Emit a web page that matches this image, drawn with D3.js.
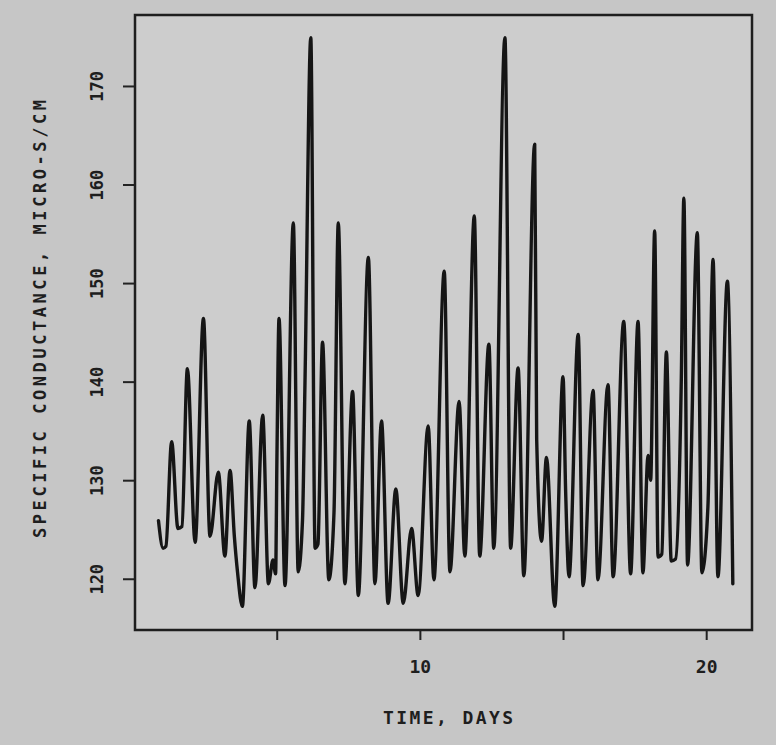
<!DOCTYPE html>
<html>
<head>
<meta charset="utf-8">
<script src="https://cdn.jsdelivr.net/npm/d3@7"></script>
<style>
  html, body { margin: 0; padding: 0; background: #c6c6c6; }
  svg { display: block; }
</style>
</head>
<body>
<div id="chart"></div>
<script>
// Time (days) and specific conductance readings, picked off the scanned plot
const days = [
  0.87, 1.03, 1.13, 1.33, 1.55, 1.69, 1.88, 2.15, 2.44, 2.67,
  2.96, 3.19, 3.37, 3.52, 3.63, 3.80, 4.04, 4.24, 4.51, 4.71,
  4.87, 4.96, 5.01, 5.08, 5.29, 5.58, 5.75, 5.90, 5.99, 6.19,
  6.34, 6.44, 6.60, 6.82, 7.00, 7.15, 7.38, 7.65, 7.85, 8.20,
  8.43, 8.66, 8.89, 9.16, 9.42, 9.71, 9.94, 10.29, 10.49, 10.85,
  11.05, 11.37, 11.57, 11.90, 12.09, 12.41, 12.58, 12.97, 13.17, 13.43,
  13.63, 14.01, 14.08, 14.25, 14.42, 14.71, 15.00, 15.09, 15.21, 15.53,
  15.70, 16.05, 16.22, 16.57, 16.75, 17.12, 17.36, 17.62, 17.79, 17.97,
  18.06, 18.20, 18.32, 18.45, 18.61, 18.78, 18.93, 19.13, 19.22, 19.35,
  19.69, 19.85, 20.06, 20.24, 20.41, 20.74, 20.93
];
const conductance = [
  125.9, 123.1, 123.3, 133.9, 125.1, 125.3, 141.3, 123.7, 146.4, 124.3,
  130.8, 122.3, 131.0, 124.3, 120.7, 117.2, 136.0, 119.1, 136.6, 119.5,
  121.9, 120.5, 133.0, 146.4, 119.3, 156.1, 120.7, 125.9, 140.4, 174.9,
  123.1, 123.5, 144.0, 119.9, 126.7, 156.1, 119.5, 139.0, 118.3, 152.6,
  119.5, 136.0, 117.5, 129.1, 117.5, 125.1, 118.3, 135.5, 119.9, 151.2,
  120.7, 138.0, 122.3, 156.8, 122.3, 143.8, 123.1, 174.9, 123.1, 141.4,
  120.3, 164.1, 134.1, 123.8, 132.3, 117.2, 140.5, 129.0, 120.2, 144.8,
  119.3, 139.1, 119.9, 139.7, 120.2, 146.1, 120.5, 146.1, 120.6, 132.5,
  130.0, 155.3, 122.2, 122.5, 143.0, 121.8, 122.0, 140.1, 158.6, 121.4,
  155.1, 120.6, 127.3, 152.4, 120.2, 150.2, 119.5
];

const xTicks = [5, 10, 15, 20];
const xTickLabels = {10: "10", 20: "20"};
const yTicks = [120, 130, 140, 150, 160, 170];

const W = 776, H = 745;
const frame = {left: 135, top: 15, right: 752, bottom: 630};

const svg = d3.select("#chart").append("svg")
  .attr("width", W)
  .attr("height", H);

const x = d3.scaleLinear().domain([0.05, 21.6]).range([frame.left, frame.right]);
const y = d3.scaleLinear().domain([114.8, 177.2]).range([frame.bottom, frame.top]);

// plot area fill (slightly lighter than the paper)
svg.append("rect")
  .attr("x", frame.left)
  .attr("y", frame.top)
  .attr("width", frame.right - frame.left)
  .attr("height", frame.bottom - frame.top)
  .attr("fill", "#cdcdcd");

const font = "'DejaVu Sans Mono', monospace";

// y axis: ticks pointing out, labels rotated
const yAxis = svg.append("g")
  .attr("transform", `translate(${frame.left},0)`)
  .call(d3.axisLeft(y).tickValues(yTicks).tickSize(12).tickSizeOuter(0));
yAxis.select(".domain").remove();
yAxis.selectAll("line").attr("stroke", "#222").attr("stroke-width", 2);
yAxis.selectAll("text")
  .attr("x", 0).attr("y", 0).attr("dy", "0.35em")
  .attr("transform", "translate(-38,0) rotate(-90)")
  .attr("text-anchor", "middle")
  .attr("font-family", font)
  .attr("font-weight", "bold")
  .attr("font-size", 17)
  .attr("fill", "#1e1e1e");

// x axis: ticks at 5-day steps, labels only on 10 and 20
const xAxis = svg.append("g")
  .attr("transform", `translate(0,${frame.bottom})`)
  .call(d3.axisBottom(x).tickValues(xTicks).tickSize(10).tickSizeOuter(0)
    .tickFormat(d => xTickLabels[d] || ""));
xAxis.select(".domain").remove();
xAxis.selectAll("line").attr("stroke", "#222").attr("stroke-width", 2);
xAxis.selectAll("text")
  .attr("y", 37).attr("dy", "0.35em")
  .attr("font-family", font)
  .attr("font-weight", "bold")
  .attr("font-size", 18)
  .attr("fill", "#1e1e1e");

// frame
svg.append("rect")
  .attr("x", frame.left)
  .attr("y", frame.top)
  .attr("width", frame.right - frame.left)
  .attr("height", frame.bottom - frame.top)
  .attr("fill", "none")
  .attr("stroke", "#1e1e1e")
  .attr("stroke-width", 2.5);

// the conductance trace
const pts = days.map((d, i) => [d, conductance[i]]);
const line = d3.line()
  .x(d => x(d[0]))
  .y(d => y(d[1]))
  .curve(d3.curveMonotoneX);

svg.append("path")
  .datum(pts)
  .attr("d", line)
  .attr("fill", "none")
  .attr("stroke", "#151515")
  .attr("stroke-width", 3.4)
  .attr("stroke-linejoin", "round")
  .attr("stroke-linecap", "round");

// axis titles
svg.append("text")
  .attr("x", 448)
  .attr("y", 718)
  .attr("dy", "0.35em")
  .attr("text-anchor", "middle")
  .attr("font-family", font)
  .attr("font-weight", "bold")
  .attr("font-size", 18)
  .attr("fill", "#1e1e1e")
  .attr("textLength", 130)
  .attr("lengthAdjust", "spacing")
  .text("TIME, DAYS");

svg.append("text")
  .attr("transform", "translate(40,319) rotate(-90)")
  .attr("dy", "0.35em")
  .attr("text-anchor", "middle")
  .attr("font-family", font)
  .attr("font-weight", "bold")
  .attr("font-size", 17)
  .attr("fill", "#1e1e1e")
  .attr("textLength", 438)
  .attr("lengthAdjust", "spacing")
  .text("SPECIFIC CONDUCTANCE, MICRO-S/CM");
</script>
</body>
</html>
